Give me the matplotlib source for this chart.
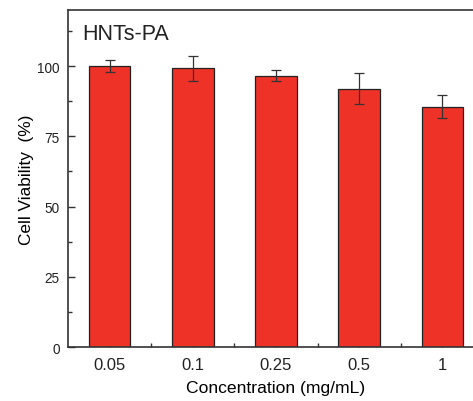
import numpy as np
import matplotlib.pyplot as plt
from matplotlib.ticker import MultipleLocator

plt.rcParams["font.family"] = ["Liberation Sans", "DejaVu Sans"]
plt.rcParams["text.color"] = "#222222"
plt.rcParams["xtick.labelcolor"] = "#222222"
plt.rcParams["ytick.labelcolor"] = "#222222"

# dados
concentracoes = ["0.05", "0.1", "0.25", "0.5", "1"]
viabilidade = [100.0, 99.2, 96.6, 92.0, 85.6]
desvio = [2.1, 4.4, 2.0, 5.5, 4.0]

fig = plt.figure(figsize=(4.73, 4.02), dpi=100)
ax = fig.add_axes([0.144, 0.134, 0.879, 0.839])

x = np.arange(len(concentracoes))

ax.bar(
    x,
    viabilidade,
    0.5,
    color="#ee3228",
    edgecolor="#222222",
    linewidth=0.9,
    yerr=desvio,
    error_kw=dict(ecolor="#333333", elinewidth=0.9, capsize=3.5, capthick=0.9),
    zorder=2
)

ax.set_xlim(-0.5, 4.5)
ax.set_ylim(0, 120)

ax.set_xticks(x)
ax.set_xticklabels(concentracoes)
ax.set_xticks(x + 0.5, minor=True)
ax.set_yticks([0, 25, 50, 75, 100])
ax.yaxis.set_minor_locator(MultipleLocator(12.5))

ax.tick_params(axis="both", which="major", direction="in", length=5, width=1, color="#333333")
ax.tick_params(axis="both", which="minor", direction="in", length=3, width=1, color="#333333")
ax.tick_params(axis="y", labelsize=9.8, pad=6)
ax.tick_params(axis="x", labelsize=12, pad=7)

for s in ax.spines.values():
    s.set_linewidth(1.2)
    s.set_color("#333333")
    s.set_zorder(3)

ax.set_xlabel("Concentration (mg/mL)", fontsize=12.6, labelpad=6)
ax.set_ylabel("Cell Viability  (%)", fontsize=12.4, labelpad=2.5)

ax.text(0.033, 0.93, "HNTs-PA", transform=ax.transAxes, fontsize=15.5, va="center")

fig.savefig("out.png", dpi=100)
plt.close()
